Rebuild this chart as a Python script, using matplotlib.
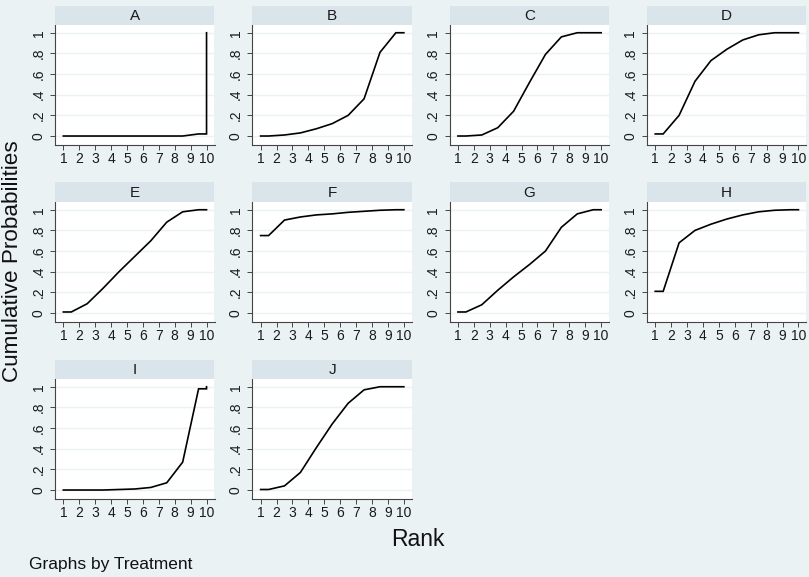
import numpy as np
import matplotlib
matplotlib.use("Agg")
import matplotlib.pyplot as plt

plt.rcParams['font.family'] = ['Liberation Sans', 'DejaVu Sans']

# cumulative probability of being ranked 1..10, one list per treatment
treatments = ['A', 'B', 'C', 'D', 'E', 'F', 'G', 'H', 'I', 'J']
cum_A = [0, 0, 0, 0, 0, 0, 0, 0, 0.02, 1]
cum_B = [0, 0.01, 0.03, 0.07, 0.12, 0.20, 0.36, 0.81, 1.0, 1]
cum_C = [0, 0.01, 0.08, 0.24, 0.52, 0.79, 0.96, 1.0, 1.0, 1]
cum_D = [0.02, 0.20, 0.53, 0.73, 0.84, 0.93, 0.98, 1.0, 1.0, 1]
cum_E = [0.01, 0.09, 0.24, 0.40, 0.55, 0.70, 0.88, 0.98, 1.0, 1]
cum_F = [0.75, 0.90, 0.93, 0.95, 0.96, 0.975, 0.985, 0.995, 1.0, 1]
cum_G = [0.01, 0.08, 0.22, 0.35, 0.47, 0.60, 0.83, 0.96, 1.0, 1]
cum_H = [0.21, 0.68, 0.80, 0.86, 0.91, 0.95, 0.98, 0.995, 1.0, 1]
cum_I = [0, 0, 0, 0.005, 0.01, 0.025, 0.07, 0.27, 0.98, 1]
cum_J = [0.005, 0.04, 0.17, 0.41, 0.64, 0.84, 0.97, 1.0, 1.0, 1]
all_cum = [cum_A, cum_B, cum_C, cum_D, cum_E, cum_F, cum_G, cum_H, cum_I, cum_J]

ranks = np.arange(1, 11)
yticks = [0, 0.2, 0.4, 0.6, 0.8, 1]
ytick_labels = ['0', '.2', '.4', '.6', '.8', '1']

bg = '#eaf2f3'
strip_col = '#d9e5ea'
W, H = 809, 577

fig = plt.figure(figsize=(W / 100, H / 100), dpi=100, facecolor=bg)


def px_axes(left, top, width, height):
    return fig.add_axes([left / W, 1 - (top + height) / H, width / W, height / H])


for i, (name, cum) in enumerate(zip(treatments, all_cum)):
    col = i % 4
    row = i // 4
    left = 55 + 197.3 * col
    top = 25 + 177 * row
    ax = px_axes(left, top, 159.5, 120)
    ax.set_facecolor('white')

    # stata-style line: rank k plotted at k+0.5, flat ends at 1 and 10
    cum = np.array(cum)
    xs = np.concatenate([[1], ranks[:9] + 0.5, [10, 10]])
    ys = np.concatenate([[cum[0]], cum[:9], [cum[8], cum[9]]])
    ax.plot(xs, ys, color='black', lw=1.2, solid_joinstyle='miter', zorder=3)

    ax.set_xlim(0.477, 10.5)
    ax.set_ylim(-0.087, 1.075)
    ax.set_xticks(ranks)
    ax.set_yticks(yticks)
    ax.set_yticklabels(ytick_labels, rotation=90, va='center')
    for y in yticks:
        ax.axhline(y, color=bg, lw=1.0, zorder=1)
    ax.tick_params(axis='both', direction='out', length=3.8, width=0.7,
                   color='#444444', labelsize=10, labelcolor='#1a1a1a')
    ax.tick_params(axis='x', pad=1.0)
    ax.tick_params(axis='y', pad=3)
    for s in ['top', 'right']:
        ax.spines[s].set_visible(False)
    for s in ['left', 'bottom']:
        ax.spines[s].set_color('#444444')
        ax.spines[s].set_linewidth(0.8)

    # panel strip
    sax = px_axes(left, top - 19.5, 159.5, 19.5)
    sax.set_facecolor(strip_col)
    sax.set_xticks([])
    sax.set_yticks([])
    for s in sax.spines.values():
        s.set_visible(False)
    sax.text(0.5, 0.45, name, ha='center', va='center', fontsize=11,
             color='#1a1a1a', transform=sax.transAxes)

fig.text(13 / W, 1 - 261 / H, 'Cumulative Probabilities', rotation=90,
         ha='center', va='center', fontsize=16.2, color='#111111')
fig.text(418 / W, 1 - 540 / H, 'Rank', ha='center', va='center',
         fontsize=16.5, color='#111111')
fig.text(29 / W, 1 - 564 / H, 'Graphs by Treatment', ha='left', va='center',
         fontsize=12.5, color='#111111')

fig.savefig('out.png', dpi=100, facecolor=bg)
